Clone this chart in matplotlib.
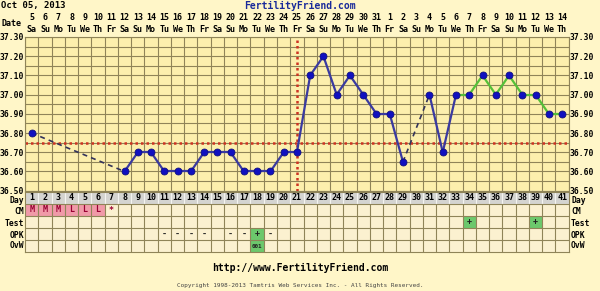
import numpy as np
import matplotlib
matplotlib.use("Agg")
import matplotlib.pyplot as plt
from matplotlib.patches import Rectangle
from matplotlib.transforms import blended_transform_factory

# cycle days and calendar labels
days = list(range(1, 42))
dates = list(range(5, 32)) + list(range(1, 15))
weekdays = (["Sa", "Su", "Mo", "Tu", "We", "Th", "Fr"] * 6)[:41]

# temperatures (None = not recorded)
temps = [36.80, None, None, None, None, None, None, 36.60, 36.70, 36.70,
         36.60, 36.60, 36.60, 36.70, 36.70, 36.70, 36.60, 36.60, 36.60, 36.70,
         36.70, 37.10, 37.20, 37.00, 37.10, 37.00, 36.90, 36.90, 36.65, None,
         37.00, 36.70, 37.00, 37.00, 37.10, 37.00, 37.10, 37.00, 37.00, 36.90,
         36.90]
coverline = 36.75
ovulation_day = 21
green_from = 33

# rows below the chart
row_names = ["Day", "CM", "Test", "OPK", "OvW"]
cm_marks = {1: "M", 2: "M", 3: "M", 4: "L", 5: "L", 6: "L", 7: "*"}
period_days = [1, 2, 3, 4, 5, 6]
test_marks = {34: "+", 39: "+"}
opk_marks = {11: "-", 12: "-", 13: "-", 14: "-", 16: "-", 17: "-", 18: "+", 19: "-"}
ovw_marks = {18: "001"}

W, H = 600, 291
BG = "#fff6c8"
PLOT_BG = "#fcefad"
GRID = "#8f8458"
CELL_BG = "#fbf1d0"
FONT = "DejaVu Sans Mono"
FS = 6

fig = plt.figure(figsize=(W / 100, H / 100), dpi=100, facecolor=BG)
page = fig.add_axes([0, 0, 1, 1])
page.set_xlim(0, W)
page.set_ylim(H, 0)
page.axis("off")


def px_box(x0, y0, x1, y1):
    return [x0 / W, 1 - y1 / H, (x1 - x0) / W, (y1 - y0) / H]


left, right = 25.1, 568.7
ax = fig.add_axes(px_box(left, 37, right, 190.7))
ax.set_facecolor(PLOT_BG)
ax.set_xlim(0.5, 41.5)
ax.set_ylim(36.50, 37.30)

yt = np.round(np.arange(36.5, 37.31, 0.1), 2)
ax.set_yticks(yt)
ax.set_yticklabels(["%.2f" % v for v in yt], fontsize=5.8, fontweight="bold", family=FONT)
ax.set_yticks(np.arange(36.55, 37.3, 0.1), minor=True)
ax.set_xticks([])
ax.set_xticks(np.arange(0.5, 41.6, 1), minor=True)
ax.tick_params(axis="both", which="both", length=0)
ax.tick_params(axis="y", labelleft=True, labelright=True, pad=0.8)
ax.grid(which="both", color=GRID, lw=0.8)
for s in ax.spines.values():
    s.set_color(GRID)
    s.set_linewidth(0.8)

# coverline and ovulation line
ax.axhline(coverline, color="#cc3322", lw=1.8, ls=(0, (1, 1.2)), zorder=2)
ax.axvline(ovulation_day, color="#cc3322", lw=1.8, ls=(0, (1, 1.2)), zorder=2)

# temperature line: solid between consecutive days, dashed across gaps
known = [(d, t) for d, t in zip(days, temps) if t is not None]
for (d0, t0), (d1, t1) in zip(known[:-1], known[1:]):
    color = "#55c038" if d0 >= green_from else "#3a3aa0"
    if d1 - d0 == 1:
        ax.plot([d0, d1], [t0, t1], color=color, lw=1.6, zorder=3)
    else:
        ax.plot([d0, d1], [t0, t1], color="#33335a", lw=1.2, ls=(0, (3, 2.5)), zorder=3)
kd = [d for d, t in known]
kt = [t for d, t in known]
ax.plot(kd, kt, ls="none", marker="o", ms=5, color="#1010c0",
        mec="#101080", mew=0.6, zorder=4)

# header
page.text(1, 1, "Oct 05, 2013", fontsize=6.5, fontweight="bold", family=FONT,
          va="top", ha="left")
page.text(300, 1, "FertilityFriend.com", fontsize=7, fontweight="bold", family=FONT,
          va="top", ha="center", color="#1a2a9a")
page.text(12, 24, "Date", fontsize=FS, fontweight="bold", family=FONT,
          va="center", ha="center")
tr = blended_transform_factory(ax.transData, page.transData)
for d, num, wd in zip(days, dates, weekdays):
    page.text(d, 17, str(num), fontsize=FS, fontweight="bold", family=FONT,
              ha="center", va="center", transform=tr)
    page.text(d, 29, wd, fontsize=FS, fontweight="bold", family=FONT,
              ha="center", va="center", transform=tr)

# table below the chart
tab = fig.add_axes(px_box(left, 192, right, 252))
tab.set_xlim(0.5, 41.5)
tab.set_ylim(5, 0)
tab.set_facecolor(CELL_BG)
tab.set_xticks([])
tab.set_yticks([])
for s in tab.spines.values():
    s.set_color(GRID)
    s.set_linewidth(0.8)

for d in days:
    tab.add_patch(Rectangle((d - 0.5, 0), 1, 1, facecolor="#d4d4d0",
                            edgecolor="#f4f4f0", lw=0.8))
    tab.text(d, 0.5, str(d), fontsize=FS, fontweight="bold", family=FONT,
             ha="center", va="center")
for d in period_days:
    tab.add_patch(Rectangle((d - 0.5, 1), 1, 1, facecolor="#f09aa8", lw=0))


def fill_row(marks, row, green_keys=()):
    for d, txt in marks.items():
        if txt == "+" or d in green_keys:
            tab.add_patch(Rectangle((d - 0.5, row), 1, 1, facecolor="#6cc86c", lw=0))
        size = 4.2 if len(txt) > 2 else FS
        color = "#990033" if row == 1 else "#222222"
        tab.text(d, row + 0.5, txt, fontsize=size, fontweight="bold", family=FONT,
                 ha="center", va="center", color=color)


fill_row(cm_marks, 1)
fill_row(test_marks, 2)
fill_row(opk_marks, 3)
fill_row(ovw_marks, 4, green_keys=ovw_marks.keys())

tab.vlines(np.arange(1.5, 41.5, 1), 1, 5, color=GRID, lw=0.8)
tab.hlines([1, 2, 3, 4], 0.5, 41.5, color=GRID, lw=0.8)

row_y = [200.5, 212, 224, 235, 246]
for name, y in zip(row_names, row_y):
    page.text(24, y, name, fontsize=5.8, fontweight="bold", family=FONT,
              ha="right", va="center")
    page.text(571, y, name, fontsize=5.8, fontweight="bold", family=FONT,
              ha="left", va="center")

# footer
page.text(300, 268, "http://www.FertilityFriend.com", fontsize=7, fontweight="bold",
          family=FONT, ha="center", va="center")
page.text(300, 285, "Copyright 1998-2013 Tamtris Web Services Inc. - All Rights Reserved.",
          fontsize=4.3, family=FONT, ha="center", va="center", color="#444444")

fig.savefig("out.png", dpi=100, facecolor=BG)
